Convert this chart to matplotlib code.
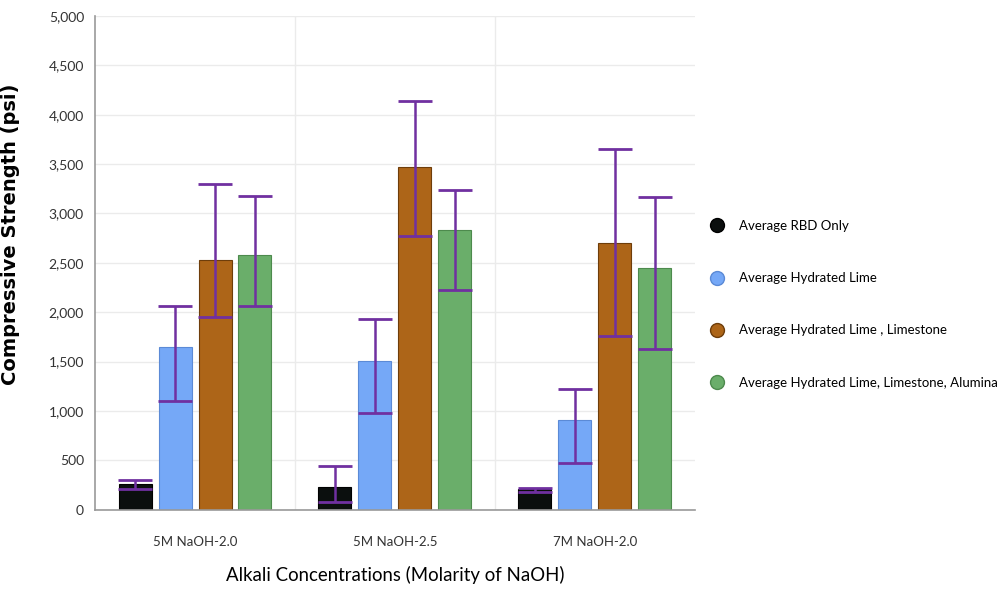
import matplotlib.pyplot as plt
import numpy as np
from matplotlib.lines import Line2D

plt.rcParams['font.family'] = ['Lato', 'DejaVu Sans']

groups = ["5M NaOH-2.0", "5M NaOH-2.5", "7M NaOH-2.0"]
series = ["Average RBD Only", "Average Hydrated Lime",
          "Average Hydrated Lime , Limestone",
          "Average Hydrated Lime, Limestone, Alumina"]

# mean compressive strength (psi), one list per mix
rbd = [260, 233, 205]
lime = [1650, 1508, 905]
lime_stone = [2530, 3472, 2702]
lime_stone_alu = [2580, 2834, 2450]

# error bar extents (lower, upper) measured from each mean
rbd_lo, rbd_hi = [47, 152, 30], [44, 212, 18]
lime_lo, lime_hi = [547, 526, 429], [415, 425, 320]
ls_lo, ls_hi = [577, 699, 941], [770, 668, 952]
lsa_lo, lsa_hi = [515, 607, 820], [598, 405, 718]

means = [rbd, lime, lime_stone, lime_stone_alu]
lows = [rbd_lo, lime_lo, ls_lo, lsa_lo]
highs = [rbd_hi, lime_hi, ls_hi, lsa_hi]

colors = ['#0b0f0e', '#75a8f7', '#ad6518', '#6aae6a']
edges = ['#000000', '#5b8ad6', '#6e3d0a', '#4d8a4d']
err_color = '#7030a0'

fig = plt.figure(figsize=(10.01, 5.92), dpi=100)
ax = fig.add_axes([0.095, 0.139, 0.599, 0.834])

x = np.arange(len(groups))
width = 0.165
step = 0.2
for i in range(len(series)):
  pos = x + (i - 1.5) * step
  ax.bar(pos, means[i], width, color=colors[i], edgecolor=edges[i], linewidth=0.8, zorder=2)
  ax.errorbar(pos, means[i], yerr=[lows[i], highs[i]], fmt='none', ecolor=err_color,
              elinewidth=1.8, capsize=12, capthick=2, zorder=3)

ax.set_xlim(-0.5, 2.5)
ax.set_ylim(0, 5000)
ax.set_yticks(np.arange(0, 5001, 500))
ax.set_yticklabels(['{:,}'.format(v) for v in range(0, 5001, 500)])
ax.set_xticks(x)
ax.set_xticklabels(groups)
ax.set_xticks([0.5, 1.5], minor=True)
ax.tick_params(axis='both', which='both', length=0, labelsize=10, colors='#333333')
ax.tick_params(axis='x', labelsize=9.5, pad=19)
ax.tick_params(axis='y', pad=8)
ax.grid(axis='y', color='#ebebeb', linewidth=1, zorder=0)
ax.grid(axis='x', which='minor', color='#ebebeb', linewidth=1, zorder=0)
for s in ['top', 'right']:
  ax.spines[s].set_visible(False)
for s in ['left', 'bottom']:
  ax.spines[s].set_color('#999999')
  ax.spines[s].set_linewidth(1.2)

ax.set_ylabel('Compressive Strength (psi)', fontsize=14, fontweight='bold',
              family=['DejaVu Sans'])
ax.yaxis.set_label_coords(-0.125, 0.557)
ax.set_xlabel('Alkali Concentrations (Molarity of NaOH)', fontsize=13.4, labelpad=13)

handles = [Line2D([], [], linestyle='none', marker='o', markersize=10,
                  markerfacecolor=colors[i], markeredgecolor=edges[i], markeredgewidth=1)
           for i in range(len(series))]
fig.legend(handles, series, loc='center left', bbox_to_anchor=(0.697, 0.486),
           frameon=False, fontsize=9.5, labelspacing=3.05, handletextpad=1.0,
           handlelength=1.2)

fig.savefig('out.png', dpi=100)
